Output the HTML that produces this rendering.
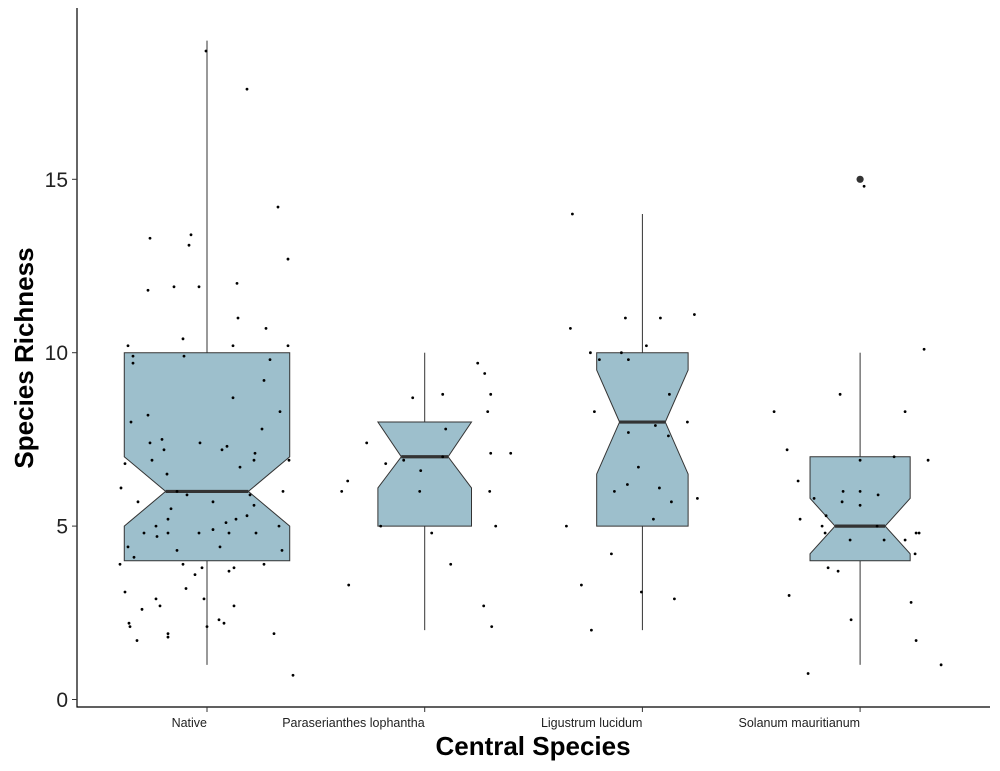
<!DOCTYPE html>
<html><head><meta charset="utf-8"><style>
html,body{margin:0;padding:0;background:#fff}
svg{display:block;font-family:"Liberation Sans",Arial,sans-serif}
</style></head><body>
<svg id="chart" width="1000" height="771" viewBox="0 0 1000 771" xmlns="http://www.w3.org/2000/svg">
<rect width="1000" height="771" fill="#fff"/>
<g id="marks"></g>
<line x1="77" y1="8" x2="77" y2="707.5" stroke="#000" stroke-width="1.2"/>
<line x1="76.5" y1="707" x2="990" y2="707" stroke="#000" stroke-width="1.2"/>
<g id="axes"></g>
<text transform="translate(33,358) rotate(-90)" text-anchor="middle" font-size="26" font-weight="bold">Species Richness</text>
<text x="533" y="755" text-anchor="middle" font-size="26" font-weight="bold">Central Species</text>
</svg>
<script>
const categories = ["Native","Paraserianthes lophantha","Ligustrum lucidum","Solanum mauritianum"];
const whiskerLow = [1,2,2,1];
const q1 = [4,5,5,4];
const median = [6,7,8,5];
const q3 = [10,8,10,7];
const whiskerHigh = [19,10,14,10];
const notchLow = [5.0,6.1,6.5,4.2];
const notchHigh = [7.0,8.0,9.5,5.8];
const boxWidthFrac = [0.76,0.43,0.42,0.46];
const outlierCat = [3];
const outlierVal = [15];
const yTicks = [0,5,10,15];
const ptCat = [];
const ptVal = [];
const ptJitter = [];
const nativeVals = [18.7,17.6,14.2,13.4,13.3,13.1,12.7,12,11.9,11.9,11.8,11,10.7,10.4,10.2,10.2,10.2,9.9,9.9,9.8,9.7,9.2,8.7,8.3,8.2,8.0,7.8,7.5,7.4,7.4,7.3,7.2,7.2,7.1,6.9,6.9,6.9,6.8,6.7,6.5,6.1,6,5.9,6,5.9,5.7,5.7,5.6,5.5,5.3,5.2,5.2,5.0,5.0,5.1,4.8,4.9,4.8,4.8,4.8,4.8,4.7,4.4,4.3,4.4,4.3,4.1,3.9,3.9,3.8,3.8,3.7,3.6,3.9,3.1,3.2,2.9,2.9,2.6,2.7,2.7,2.3,2.2,2.1,2.1,1.9,2.2,1.8,1.9,1.7,0.7];
const nativeJit = [206,247,278,191,150,189,288,237,174,199,148,238,266,183,128,233,288,133,184,270,133,264,233,280,148,131,262,162,150,200,227,164,222,255,254,289,152,125,240,167,121,177,187,283,250,138,213,254,171,247,168,236,156,279,226,168,213,199,144,229,256,157,128,177,220,282,134,120,183,202,234,229,195,264,125,186,156,204,142,160,234,219,129,130,207,168,224,168,274,137,293];
const paraVals = [9.7,9.4,8.8,8.7,8.8,8.3,7.8,7.4,7.1,7.1,7.0,6.9,6.8,6.6,6.3,6,6,6,5.0,5.0,4.8,3.9,3.3,2.7,2.1];
const paraJit = [478,485,491,413,443,488,446,367,511,491,443,404,386,421,348,342,420,490,381,496,432,451,349,484,492];
const ligVals = [14,11.1,11,11,10.7,10.2,10,10,9.8,9.8,8.8,8.3,7.9,8,7.7,7.6,6.7,6.2,6.1,6,5.8,5.7,5.2,5,4.2,3.3,3.1,2.9,2.0];
const ligJit = [572,694,660,625,570,646,590,621,599,628,669,594,655,687,628,668,638,627,659,614,697,671,653,566,611,581,641,674,591];
const solVals = [14.8,10.1,8.8,8.3,8.3,7.2,7.0,6.9,6.9,6.3,6,6,5.9,5.8,5.7,5.6,5.3,5.2,5,5,4.8,4.8,4.8,4.6,4.6,4.6,3.7,3.8,4.2,3,2.8,2.3,1.7,0.75,1.0];
const solJit = [864,924,840,774,905,787,894,928,860,798,860,843,878,814,842,860,826,800,822,877,825,916,919,884,850,905,838,828,915,789,911,851,916,808,941];
[[nativeVals,nativeJit],[paraVals,paraJit],[ligVals,ligJit],[solVals,solJit]].forEach((pair,c)=>{
  pair[0].forEach((v,i)=>{ptCat.push(c);ptVal.push(v);ptJitter.push((pair[1][i]-[207,425,642,860][c])/217.7);});
});

const NS="http://www.w3.org/2000/svg";
const yScale = v => 699.5 - v*34.68;
const xScale = c => 207 + c*217.7;
const step = 217.7;
const marks = document.getElementById('marks');
const axes = document.getElementById('axes');
function mk(tag, attrs, parent){const e=document.createElementNS(NS,tag);for(const k in attrs)e.setAttribute(k,attrs[k]);parent.appendChild(e);return e;}

categories.forEach((cat,c)=>{
  const cx = xScale(c), hw = boxWidthFrac[c]*step/2, L=cx-hw, R=cx+hw, ins=hw/2;
  const g = mk('g',{},marks);
  
  
  const wl = mk('line',{x1:cx,x2:cx,y1:yScale(whiskerHigh[c]),y2:yScale(q3[c]),stroke:'#333','stroke-width':1},g);
  
  
  const wl2 = mk('line',{x1:cx,x2:cx,y1:yScale(q1[c]),y2:yScale(whiskerLow[c]),stroke:'#333','stroke-width':1},g);
  
  
  const pts=[[L,yScale(q1[c])],[L,yScale(notchLow[c])],[L+ins,yScale(median[c])],[L,yScale(notchHigh[c])],[L,yScale(q3[c])],[R,yScale(q3[c])],[R,yScale(notchHigh[c])],[R-ins,yScale(median[c])],[R,yScale(notchLow[c])],[R,yScale(q1[c])]];
  const poly = mk('polygon',{points:pts.map(p=>p.join(',')).join(' '),fill:'#9dbfcc',stroke:'#333','stroke-width':1},g);
  
  
  const ml = mk('line',{x1:L+ins,x2:R-ins,y1:yScale(median[c]),y2:yScale(median[c]),stroke:'#333','stroke-width':3.2},g);
  
  
  const tk = mk('line',{x1:cx,x2:cx,y1:707,y2:712,stroke:'#333','stroke-width':1},axes);
  
  
  const tl = mk('text',{x:cx,y:727,'text-anchor':'end','font-size':12.5,fill:'#222'},axes);
  tl.textContent=cat;
  
  
});
outlierVal.forEach((v,i)=>{
  const o = mk('circle',{cx:xScale(outlierCat[i]),cy:yScale(v),r:3.6,fill:'#333'},marks);
  
  
});
ptVal.forEach((v,i)=>{
  const p = mk('circle',{cx:xScale(ptCat[i])+ptJitter[i]*step,cy:yScale(v),r:1.4,fill:'#000'},marks);
  
  
});
yTicks.forEach(t=>{
  const y=yScale(t);
  const tk = mk('line',{x1:72,x2:77,y1:y,y2:y,stroke:'#333','stroke-width':1},axes);
  
  
  const tl = mk('text',{x:68,y:y+7.5,'text-anchor':'end','font-size':21,fill:'#222'},axes);
  tl.textContent=t;
  
  
});
</script>
</body></html>
